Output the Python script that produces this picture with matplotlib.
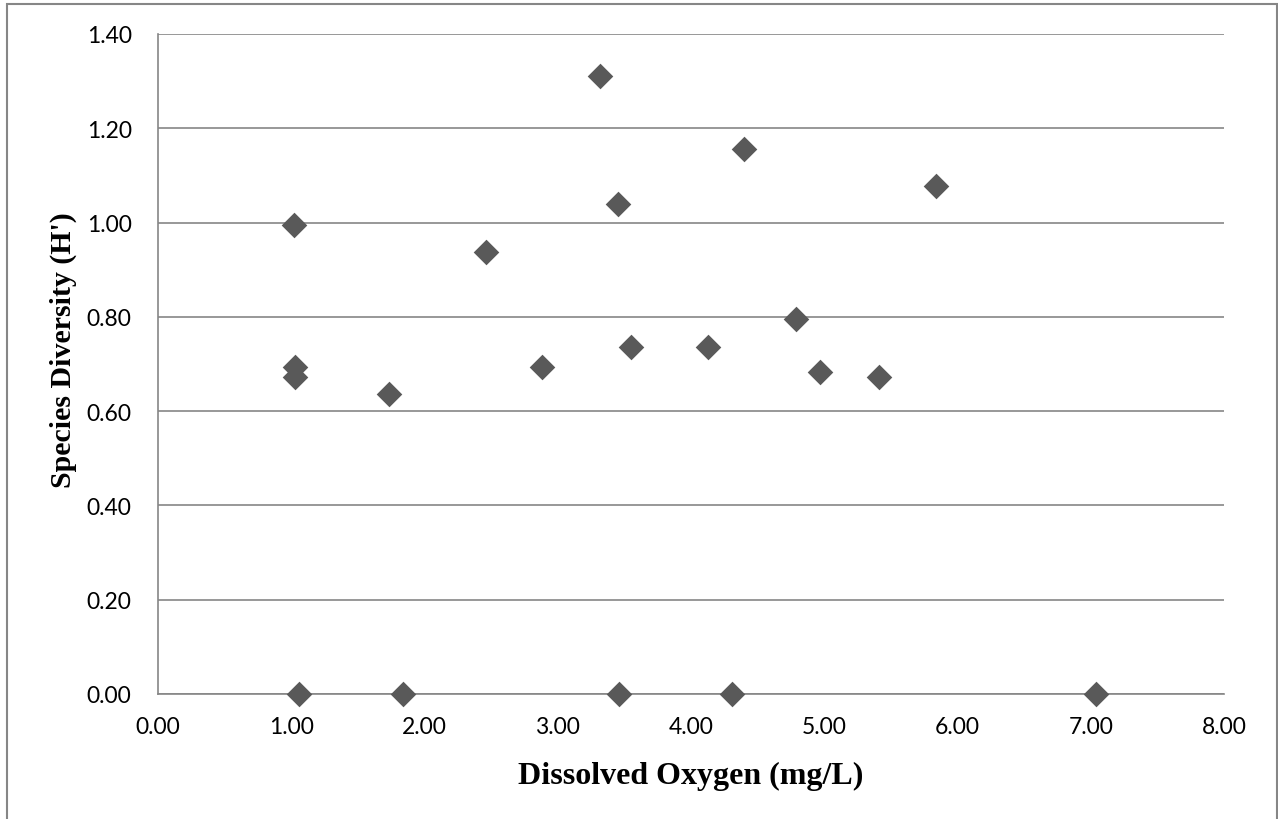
import matplotlib
matplotlib.use('Agg')
import matplotlib.pyplot as plt
from matplotlib.patches import Rectangle

# dissolved oxygen (mg/L) vs species diversity (H')
oxygen = [1.02, 1.03, 1.03, 1.06, 1.73, 1.84, 2.46, 2.88, 3.32, 3.45, 3.46,
          3.55, 4.13, 4.31, 4.40, 4.79, 4.97, 5.41, 5.84, 7.04]
diversity = [0.995, 0.694, 0.672, 0.0, 0.636, 0.0, 0.938, 0.693, 1.311, 1.039, 0.0,
             0.736, 0.736, 0.0, 1.156, 0.795, 0.683, 0.672, 1.078, 0.0]

x_ticks = [0, 1, 2, 3, 4, 5, 6, 7, 8]
y_ticks = [0, 0.2, 0.4, 0.6, 0.8, 1.0, 1.2, 1.4]

W, H = 1278, 820
fig = plt.figure(figsize=(W / 100, H / 100), dpi=100)
ax = fig.add_axes([158 / W, 1 - 695 / H, (1224 - 158) / W, (695 - 35) / H])

# outer chart border (bottom edge cut off in the original)
fig.patches.append(Rectangle((7 / W, -0.01), (1277 - 7) / W, 1 - 5 / H + 0.01,
                             transform=fig.transFigure, fill=False,
                             edgecolor='#868686', linewidth=1.5))

ax.scatter(oxygen, diversity, marker='D', s=170, color='#595959', zorder=3,
           clip_on=False, linewidths=0)

ax.set_xlim(0, 8)
ax.set_ylim(0, 1.4)
ax.set_xticks(x_ticks)
ax.set_yticks(y_ticks)
ax.set_xticklabels(['%.2f' % v for v in x_ticks])
ax.set_yticklabels(['%.2f' % v for v in y_ticks])
ax.tick_params(length=0, labelsize=16.5)
ax.tick_params(axis='y', pad=19)
ax.tick_params(axis='x', pad=16)
for lab in ax.get_xticklabels() + ax.get_yticklabels():
    lab.set_family('Lato')

ax.grid(axis='y', color='#868686', linewidth=1.2)
ax.set_axisbelow(True)
for s in ['top', 'right']:
    ax.spines[s].set_visible(False)
for s in ['left', 'bottom']:
    ax.spines[s].set_color('#868686')
    ax.spines[s].set_linewidth(1.2)

ax.set_xlabel('Dissolved Oxygen (mg/L)', family='Liberation Serif',
              fontweight='bold', fontsize=23, labelpad=17)
ax.set_ylabel("Species Diversity (H')", family='Liberation Serif',
              fontweight='bold', fontsize=21.5, labelpad=8)
ax.yaxis.set_label_coords(-0.076, 0.522)

fig.savefig('out.png', dpi=100)
